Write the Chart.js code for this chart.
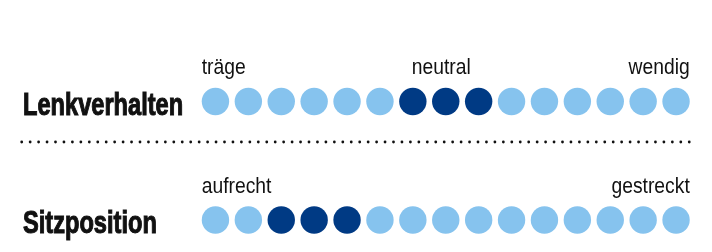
<!DOCTYPE html>
<html>
<head>
<meta charset="utf-8">
<script src="https://cdn.jsdelivr.net/npm/chart.js@4/dist/chart.umd.min.js"></script>
<style>
html,body{margin:0;padding:0;background:#fff;}
#wrap{width:712px;height:252px;position:relative;}
canvas{display:block;}
</style>
</head>
<body>
<div id="wrap"><canvas id="c" width="712" height="252"></canvas></div>
<script>
// Scale positions (15 steps)
const steps = [1,2,3,4,5,6,7,8,9,10,11,12,13,14,15];
// Rows
const rowNames = ['Lenkverhalten','Sitzposition'];
// Rating marks: 1 = highlighted (dark) dot
const lenkMarks = [0,0,0,0,0,0,1,1,1,0,0,0,0,0,0];
const sitzMarks = [0,0,1,1,1,0,0,0,0,0,0,0,0,0,0];
// Scale end labels
const lenkLabels = ['träge','neutral','wendig'];
const sitzLabels = ['aufrecht','gestreckt'];

const LIGHT = '#86C3EE';
const DARK = '#003A84';
const FONT = "'Liberation Sans',Arial,sans-serif";

function rowData(rowIdx){ return steps.map(s => ({x:s, y:rowIdx})); }
function rowColors(marks){ return marks.map(m => m ? DARK : LIGHT); }

function drawCondensed(ctx, text, x, y, align, sx, stroke){
  const w = ctx.measureText(text).width * sx;
  let x0 = x;
  if (align === 'center') x0 = x - w/2;
  else if (align === 'right') x0 = x - w;
  ctx.save();
  ctx.translate(x0, y);
  ctx.scale(sx, 1);
  ctx.textAlign = 'left';
  ctx.fillText(text, 0, 0);
  if (stroke) ctx.strokeText(text, 0, 0);
  ctx.restore();
}

const labelPlugin = {
  id:'labels',
  afterDraw(chart){
    const ctx = chart.ctx;
    const xs = chart.scales.x, ys = chart.scales.y;
    const r = 13.7;
    const x1 = xs.getPixelForValue(steps[0]) - r;
    const x15 = xs.getPixelForValue(steps[steps.length-1]) + r;
    const xMid = xs.getPixelForValue(8) - 4.5;
    const y1 = ys.getPixelForValue(1);
    const y2 = ys.getPixelForValue(2);
    ctx.save();
    ctx.fillStyle = '#111';
    ctx.strokeStyle = '#111';
    ctx.textBaseline = 'alphabetic';
    ctx.font = "22px " + FONT;
    const s = 0.877;
    drawCondensed(ctx, lenkLabels[0], x1, y1 - 27.5, 'left', s);
    drawCondensed(ctx, lenkLabels[1], xMid, y1 - 27.5, 'center', s);
    drawCondensed(ctx, lenkLabels[2], x15, y1 - 27.5, 'right', s);
    drawCondensed(ctx, sitzLabels[0], x1, y2 - 27, 'left', s);
    drawCondensed(ctx, sitzLabels[1], x15, y2 - 27, 'right', s);
    // row names (bold condensed)
    ctx.font = "bold 31.5px " + FONT;
    ctx.lineWidth = 1.1;
    drawCondensed(ctx, rowNames[0], 23, y1 + 13.5, 'left', 0.75, true);
    drawCondensed(ctx, rowNames[1], 23, y2 + 13, 'left', 0.75, true);
    // dotted separator
    const sepY = 142;
    for (let i = 0; i <= 79; i++) {
      const x = 21.7 + i * 8.45;
      ctx.beginPath(); ctx.arc(x, sepY, 1.4, 0, Math.PI*2); ctx.fill();
    }
    ctx.restore();
  }
};

new Chart(document.getElementById('c'), {
  type:'scatter',
  data:{
    datasets:[
      {label:rowNames[0], data:rowData(1), pointBackgroundColor:rowColors(lenkMarks), pointRadius:13.7, pointHoverRadius:13.7, pointBorderWidth:0, clip:false},
      {label:rowNames[1], data:rowData(2), pointBackgroundColor:rowColors(sitzMarks), pointRadius:13.7, pointHoverRadius:13.7, pointBorderWidth:0, clip:false}
    ]
  },
  options:{
    responsive:false,
    animation:false,
    events:[],
    layout:{autoPadding:false, padding:{left:199, right:19.5, top:42.25, bottom:8.3}},
    plugins:{legend:{display:false}, tooltip:{enabled:false}},
    scales:{
      x:{type:'linear', min:0.5, max:15.5, display:false},
      y:{type:'linear', min:0.5, max:2.2, reverse:true, display:false}
    }
  },
  plugins:[labelPlugin]
});
</script>
</body>
</html>
